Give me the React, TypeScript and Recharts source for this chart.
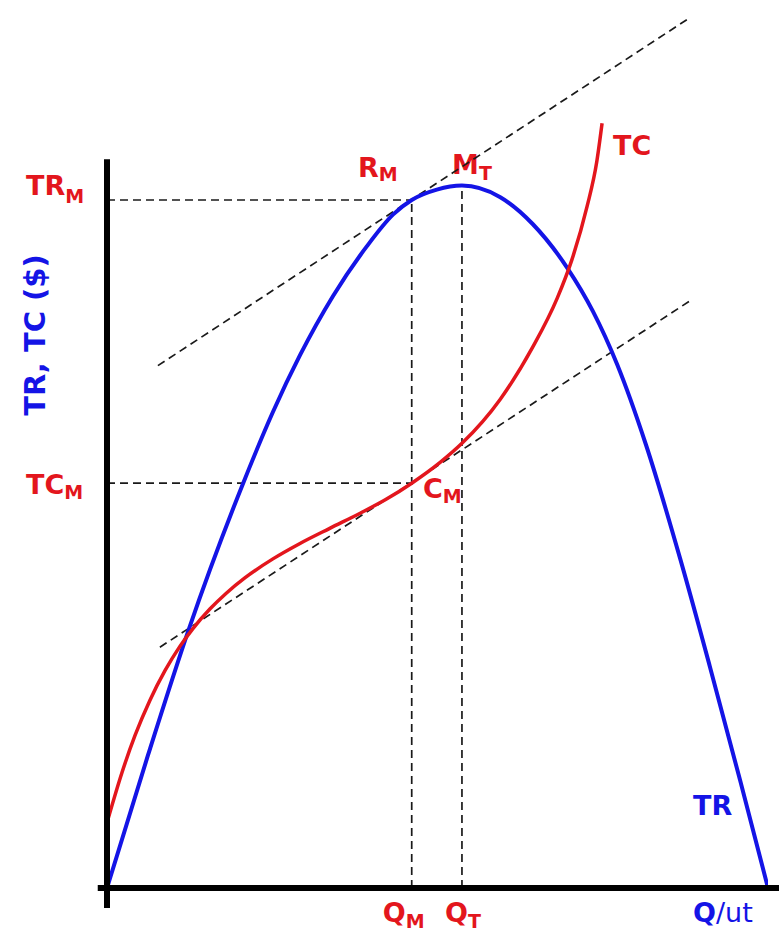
import { ComposedChart, Line, XAxis, YAxis, ReferenceLine } from "recharts";

// total revenue curve (Q, $)
const trQ = [0, 6.2, 12.4, 20.6, 25.1, 29.2, 34.2, 39.3, 43.3, 46.1, 49.9, 53.7, 59.5, 64.4, 69.6, 73.5, 77.2, 81.5, 86.7, 91.2, 95.8, 100];
const trV = [0, 16.6, 32.4, 50.6, 59.5, 66.6, 74.0, 80.2, 84.2, 86.0, 87.3, 87.8, 86.35, 83.0, 77.55, 72.1, 65.4, 55.5, 41.2, 27.7, 13.4, 0];

// total cost curve (Q, $)
const tcQ = [0.2, 2.27, 4.24, 6.5, 8.77, 11.0, 13.0, 15.6, 18.0, 20.9, 25.1, 29.2, 33.7, 38.3, 42.1, 46.1, 50.4, 53.7, 59.5, 64.4, 68.1, 70.3, 72.6, 74.1, 74.9];
const tcV = [8.75, 14.44, 19.07, 23.48, 27.16, 30.17, 32.43, 34.9, 36.82, 38.79, 41.14, 43.07, 44.96, 46.85, 48.52, 50.6, 53.2, 55.58, 61.1, 67.6, 73.7, 78.45, 85.1, 90.8, 95.6];

// marked quantities and values
const Q_M = 46.1;
const Q_T = 53.7;
const TR_M = 86.0;
const TC_M = 50.6;

// parallel tangent lines (slope = MR = MC at Q_M)
const upperTangent = [{ x: 7.7, y: 65.3 }, { x: 88.2, y: 108.8 }];
const lowerTangent = [{ x: 8.0, y: 30.1 }, { x: 88.2, y: 73.4 }];

const trData = trQ.map((q, i) => ({ q, v: trV[i] }));
const tcData = tcQ.map((q, i) => ({ q, v: tcV[i] }));

const RED = "#e3161d";
const BLUE = "#1414e6";
const FONT = "'DejaVu Sans', Verdana, sans-serif";
const DASH = "8 5";

function YTick(props: any) {
  const { y, payload } = props;
  const isTR = payload.value === TR_M;
  const base = isTR ? y - 5 : y + 11;
  return (
    <text x={26} y={base} fill={RED} fontFamily={FONT} fontWeight="bold" fontSize={27}>
      {isTR ? "TR" : "TC"}
      <tspan fontSize={19} dy={isTR ? 8 : 5}>M</tspan>
    </text>
  );
}

function XTick(props: any) {
  const { x, payload } = props;
  const isM = payload.value === Q_M;
  return (
    <text x={x + (isM ? -29 : -17)} y={922} fill={RED} fontFamily={FONT} fontWeight="bold" fontSize={27}>
      Q
      <tspan fontSize={19} dy={6}>{isM ? "M" : "T"}</tspan>
    </text>
  );
}

export default function App() {
  return (
    <div style={{ position: "absolute", left: 0, top: 0, width: 779, height: 934, background: "#fff" }}>
      <ComposedChart width={779} height={934} margin={{ top: 8, right: 11, bottom: 16, left: 7 }}>
        <XAxis
          type="number"
          dataKey="q"
          domain={[0, 100]}
          ticks={[Q_M, Q_T]}
          axisLine={false}
          tickLine={false}
          height={30}
          tick={<XTick />}
          allowDataOverflow
        />
        <YAxis
          type="number"
          dataKey="v"
          domain={[0, 110]}
          ticks={[TC_M, TR_M]}
          axisLine={false}
          tickLine={false}
          width={100}
          tick={<YTick />}
          allowDataOverflow
        />

        {/* guide lines */}
        <ReferenceLine segment={[{ x: 0, y: TR_M }, { x: Q_M, y: TR_M }]} stroke="#1a1a1a" strokeWidth={1.7} strokeDasharray={DASH} ifOverflow="visible" />
        <ReferenceLine segment={[{ x: 0, y: TC_M }, { x: Q_M, y: TC_M }]} stroke="#1a1a1a" strokeWidth={1.7} strokeDasharray={DASH} ifOverflow="visible" />
        <ReferenceLine segment={[{ x: Q_M, y: 0 }, { x: Q_M, y: TR_M }]} stroke="#1a1a1a" strokeWidth={1.7} strokeDasharray={DASH} ifOverflow="visible" />
        <ReferenceLine segment={[{ x: Q_T, y: 0 }, { x: Q_T, y: 87.2 }]} stroke="#1a1a1a" strokeWidth={1.7} strokeDasharray={DASH} ifOverflow="visible" />
        <ReferenceLine segment={upperTangent} stroke="#1a1a1a" strokeWidth={1.7} strokeDasharray={DASH} ifOverflow="visible" />
        <ReferenceLine segment={lowerTangent} stroke="#1a1a1a" strokeWidth={1.7} strokeDasharray={DASH} ifOverflow="visible" />

        <Line data={trData} dataKey="v" type="monotone" stroke={BLUE} strokeWidth={4} dot={false} activeDot={false} isAnimationActive={false} />
        <Line data={tcData} dataKey="v" type="monotone" stroke={RED} strokeWidth={3.5} dot={false} activeDot={false} isAnimationActive={false} />

        {/* axes */}
        <ReferenceLine segment={[{ x: 0, y: -2.5 }, { x: 0, y: 91.1 }]} stroke="#000" strokeWidth={6} ifOverflow="visible" />
        <ReferenceLine segment={[{ x: -1.4, y: 0 }, { x: 101.7, y: 0 }]} stroke="#000" strokeWidth={6} ifOverflow="visible" />

        <g fontFamily={FONT} fontWeight="bold">
          <text x={358} y={177} fill={RED} fontSize={27}>
            R<tspan fontSize={19} dy={4}>M</tspan>
          </text>
          <text x={452} y={174} fill={RED} fontSize={27}>
            M<tspan fontSize={19} dy={6}>T</tspan>
          </text>
          <text x={423} y={498} fill={RED} fontSize={27}>
            C<tspan fontSize={19} dy={5}>M</tspan>
          </text>
          <text x={613} y={155} fill={RED} fontSize={27}>TC</text>
          <text x={693} y={815} fill={BLUE} fontSize={27}>TR</text>
          <text x={693} y={922} fill={BLUE} fontSize={27}>
            Q<tspan fontWeight="normal">/ut</tspan>
          </text>
          <text
            x={35}
            y={335}
            fill={BLUE}
            fontSize={29}
            textAnchor="middle"
            dominantBaseline="central"
            transform="rotate(-90 35 335)"
          >
            TR, TC ($)
          </text>
        </g>
      </ComposedChart>
    </div>
  );
}
